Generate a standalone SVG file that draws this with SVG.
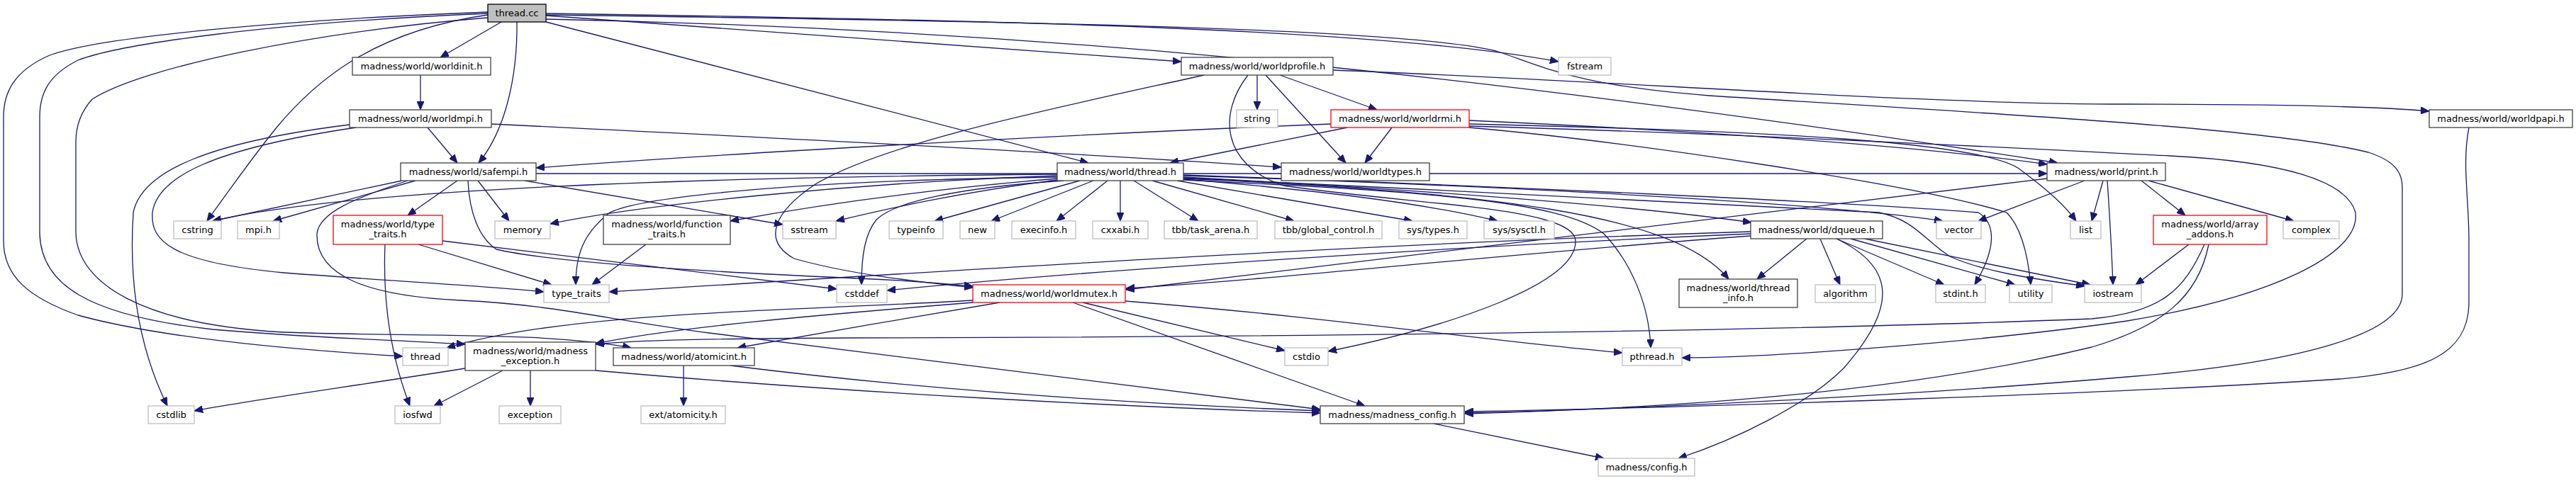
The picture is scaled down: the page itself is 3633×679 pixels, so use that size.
<svg xmlns="http://www.w3.org/2000/svg" width="3633" height="679" viewBox="0 0 3633 679">
<style>
rect{stroke-width:1.3}
.n{fill:#fff;stroke:#404040}
.g{fill:#fff;stroke:#bfbfbf}
.r{fill:#fff;stroke:#ff0000}
.c{fill:#bfbfbf;stroke:#000}
text{font-family:"DejaVu Sans","Liberation Sans",sans-serif;font-size:13px;text-anchor:middle;fill:#000}
#edges path{fill:none;stroke:#191970;stroke-width:1.3;marker-end:url(#a)}
</style>
<defs>
<marker id="a" viewBox="0 0 12 10" refX="12" refY="5" markerWidth="12" markerHeight="10" markerUnits="userSpaceOnUse" orient="auto"><path d="M0,0 L12,5 L0,10 z" fill="#191970" stroke="#191970" stroke-width="1"/></marker>
</defs>
<rect width="3633" height="679" fill="#fff"/>
<g id="edges">
<path d="M707,31 L621,81"/>
<path d="M729,31 C730,110 712,185 675,230"/>
<path d="M770,31 L1535,230"/>
<path d="M770,22 L1666,87"/>
<path d="M770,19 C1400,28 1950,40 2198,87"/>
<path d="M770,27 C1400,40 2000,90 2902,230"/>
<path d="M770,21 C1450,30 1980,40 2110,72 C2180,95 2220,120 2410,135 C2800,160 3200,180 3340,215 C3380,228 3388,245 3388,265 L3388,415 C3388,470 3250,512 3000,532 C2700,558 2300,578 2066,583"/>
<path d="M688,21 C520,45 440,120 390,180 C350,230 315,280 292,312"/>
<path d="M688,17 C400,28 140,52 70,78 C20,100 5,130 5,165 L5,340 C5,390 40,420 110,445 C220,475 380,492 568,503"/>
<path d="M688,19 C380,32 170,62 110,85 C70,105 56,130 56,165 L56,330 C58,400 120,445 300,465 C450,478 570,480 656,486"/>
<path d="M688,25 C440,45 200,95 130,140 C112,160 107,180 107,200 L107,330 C110,400 200,458 400,469 C600,476 770,468 890,491"/>
<path d="M593,106 L593,155"/>
<path d="M603,180 L645,230"/>
<path d="M693,175 C1100,195 1500,215 1807,236"/>
<path d="M493,176 C300,200 200,240 188,300 C180,420 205,510 236,573"/>
<path d="M502,180 C300,210 222,250 215,300 C212,340 240,370 400,385 C600,400 700,405 767,412"/>
<path d="M567,255 L300,312"/>
<path d="M586,255 L385,312"/>
<path d="M645,255 L575,304"/>
<path d="M674,255 L718,312"/>
<path d="M740,255 L1104,317"/>
<path d="M575,255 C500,280 450,300 447,330 C445,390 520,418 650,424 C780,430 850,450 1000,470 C1300,510 1600,545 1862,578"/>
<path d="M756,245 L2887,245"/>
<path d="M660,255 C662,300 675,335 700,352 C800,375 1100,388 1210,393 C1280,396 1330,400 1372,404"/>
<path d="M1773,106 L1773,155"/>
<path d="M1805,106 L1942,155"/>
<path d="M1785,106 L1898,230"/>
<path d="M1880,99 C2300,115 2700,147 3000,147 C3200,147 3350,150 3426,157"/>
<path d="M1760,106 C1718,160 1722,232 1810,262 C2000,290 2220,292 2222,340 C2224,400 2050,460 1873,496"/>
<path d="M1698,106 C1500,150 1250,200 1150,260 C1090,300 1075,340 1120,365 C1200,388 1300,398 1372,406"/>
<path d="M1963,180 L1925,230"/>
<path d="M1900,180 L1650,230"/>
<path d="M1877,175 C1500,190 1000,218 756,237"/>
<path d="M2072,170 C2400,185 2700,205 2887,232"/>
<path d="M2072,175 C2500,185 2800,200 2850,240 C2890,270 2912,290 2928,312"/>
<path d="M2072,178 C2500,190 2900,212 3060,220 C3220,228 3310,255 3322,300 C3330,360 3200,420 3000,453 C2800,482 2500,505 2372,505"/>
<path d="M2072,180 C2300,200 2700,260 2830,300 C2850,320 2860,360 2864,402"/>
<path d="M1523,255 L1318,312"/>
<path d="M1542,255 L1398,312"/>
<path d="M1562,255 L1490,312"/>
<path d="M1580,255 L1580,312"/>
<path d="M1599,255 L1690,312"/>
<path d="M1625,255 L1825,312"/>
<path d="M1660,255 L1992,312"/>
<path d="M1669,253 C1850,268 2000,285 2112,312"/>
<path d="M1669,250 C2000,268 2300,290 2470,314"/>
<path d="M1669,248 C2200,265 2600,290 2740,312"/>
<path d="M1669,252 C2100,272 2360,300 2438,394"/>
<path d="M1669,254 C2000,270 2200,282 2262,330 C2300,370 2326,430 2328,491"/>
<path d="M1669,251 C2000,265 2400,290 2650,300 C2700,310 2715,340 2750,362 C2800,385 2880,395 2940,404"/>
<path d="M1669,247 C2100,262 2600,285 2790,300 C2815,315 2816,350 2785,402"/>
<path d="M1491,248 C1200,258 900,290 776,316"/>
<path d="M1491,252 C1300,268 1150,290 1030,312"/>
<path d="M1491,254 C1350,272 1250,295 1179,312"/>
<path d="M1491,246 C1000,250 500,265 300,312"/>
<path d="M1491,250 C1100,255 900,280 860,300 C822,330 812,360 812,402"/>
<path d="M1500,255 C1350,265 1262,285 1236,310 C1220,330 1215,360 1215,402"/>
<path d="M2940,255 L2790,312"/>
<path d="M2966,255 L2950,312"/>
<path d="M2972,255 C2975,300 2978,350 2980,402"/>
<path d="M3020,255 L3082,304"/>
<path d="M3030,255 L3235,312"/>
<path d="M2887,252 L1588,409"/>
<path d="M2548,337 L2478,394"/>
<path d="M2567,337 L2595,402"/>
<path d="M2590,337 L2742,402"/>
<path d="M2610,337 L2842,402"/>
<path d="M2630,337 L2948,402"/>
<path d="M2590,337 C2680,380 2670,440 2600,520 C2550,570 2450,620 2367,647"/>
<path d="M2469,333 C2100,360 1800,395 1588,407"/>
<path d="M2469,330 C2000,350 1500,385 1251,410"/>
<path d="M2469,327 C1900,345 1300,385 859,412"/>
<path d="M3087,345 L3012,402"/>
<path d="M3115,345 C3100,420 3050,460 2950,490 C2700,550 2400,575 2066,584"/>
<path d="M3109,345 C3080,410 3050,440 2950,450 C2500,468 1800,476 1200,477 C1000,478 900,480 840,486"/>
<path d="M3482,180 C3472,230 3482,280 3482,340 L3482,430 C3480,500 3420,525 3300,535 C3000,555 2400,575 2066,581"/>
<path d="M2022,598 L2262,647"/>
<path d="M590,345 L778,402"/>
<path d="M543,345 C540,420 550,500 578,573"/>
<path d="M624,340 L1180,408"/>
<path d="M911,345 L835,402"/>
<path d="M1372,424 C1100,440 800,440 630,491"/>
<path d="M1372,427 C1150,445 950,462 840,485"/>
<path d="M1410,427 C1300,445 1150,472 1040,491"/>
<path d="M1527,427 L1812,495"/>
<path d="M1587,425 C1900,450 2100,482 2288,498"/>
<path d="M1513,427 L1925,573"/>
<path d="M709,523 L612,573"/>
<path d="M748,523 L748,573"/>
<path d="M656,520 C500,545 350,565 274,580"/>
<path d="M840,523 C1200,555 1600,575 1862,583"/>
<path d="M964,516 L964,573"/>
<path d="M1030,516 C1300,550 1600,570 1862,580"/>
</g>
<g id="n_cc"><rect class="c" x="688" y="6" width="82" height="25"/><text x="729" y="23">thread.cc</text></g>
<g id="n_init"><rect class="n" x="497" y="81" width="195" height="25"/><text x="594.5" y="98">madness/world/worldinit.h</text></g>
<g id="n_mpi"><rect class="n" x="493" y="155" width="200" height="25"/><text x="593" y="172">madness/world/worldmpi.h</text></g>
<g id="n_safempi"><rect class="n" x="565" y="230" width="191" height="25"/><text x="660.5" y="247">madness/world/safempi.h</text></g>
<g id="n_prof"><rect class="n" x="1666" y="81" width="214" height="25"/><text x="1773" y="98">madness/world/worldprofile.h</text></g>
<g id="n_fstream"><rect class="g" x="2198" y="81" width="74" height="25"/><text x="2235" y="98">fstream</text></g>
<g id="n_string"><rect class="g" x="1744" y="155" width="58" height="25"/><text x="1773" y="172">string</text></g>
<g id="n_rmi"><rect class="r" x="1877" y="155" width="195" height="25"/><text x="1974.5" y="172">madness/world/worldrmi.h</text></g>
<g id="n_papi"><rect class="n" x="3426" y="155" width="202" height="25"/><text x="3527" y="172">madness/world/worldpapi.h</text></g>
<g id="n_threadh"><rect class="n" x="1491" y="230" width="178" height="25"/><text x="1580" y="247">madness/world/thread.h</text></g>
<g id="n_types"><rect class="n" x="1807" y="230" width="209" height="25"/><text x="1911.5" y="247">madness/world/worldtypes.h</text></g>
<g id="n_print"><rect class="n" x="2887" y="230" width="167" height="25"/><text x="2970.5" y="247">madness/world/print.h</text></g>
<g id="n_cstring"><rect class="g" x="245" y="312" width="67" height="25"/><text x="278.5" y="329">cstring</text></g>
<g id="n_mpih"><rect class="g" x="335" y="312" width="59" height="25"/><text x="364.5" y="329">mpi.h</text></g>
<g id="n_ttred"><rect class="r" x="470" y="304" width="154" height="41"/><text x="547" y="321">madness/world/type</text><text x="547" y="335">_traits.h</text></g>
<g id="n_memory"><rect class="g" x="698" y="312" width="78" height="25"/><text x="737" y="329">memory</text></g>
<g id="n_ft"><rect class="n" x="851" y="304" width="179" height="41"/><text x="940.5" y="321">madness/world/function</text><text x="940.5" y="335">_traits.h</text></g>
<g id="n_sstream"><rect class="g" x="1104" y="312" width="75" height="25"/><text x="1141.5" y="329">sstream</text></g>
<g id="n_typeinfo"><rect class="g" x="1254" y="312" width="76" height="25"/><text x="1292" y="329">typeinfo</text></g>
<g id="n_new"><rect class="g" x="1354" y="312" width="49" height="25"/><text x="1378.5" y="329">new</text></g>
<g id="n_execinfo"><rect class="g" x="1427" y="312" width="90" height="25"/><text x="1472" y="329">execinfo.h</text></g>
<g id="n_cxxabi"><rect class="g" x="1541" y="312" width="78" height="25"/><text x="1580" y="329">cxxabi.h</text></g>
<g id="n_taskarena"><rect class="g" x="1642" y="312" width="131" height="25"/><text x="1707.5" y="329">tbb/task_arena.h</text></g>
<g id="n_globalctl"><rect class="g" x="1798" y="312" width="151" height="25"/><text x="1873.5" y="329">tbb/global_control.h</text></g>
<g id="n_systypes"><rect class="g" x="1973" y="312" width="96" height="25"/><text x="2021" y="329">sys/types.h</text></g>
<g id="n_sysctl"><rect class="g" x="2093" y="312" width="99" height="25"/><text x="2142.5" y="329">sys/sysctl.h</text></g>
<g id="n_dqueue"><rect class="n" x="2469" y="312" width="186" height="25"/><text x="2562" y="329">madness/world/dqueue.h</text></g>
<g id="n_vector"><rect class="g" x="2731" y="312" width="63" height="25"/><text x="2762.5" y="329">vector</text></g>
<g id="n_list"><rect class="g" x="2920" y="312" width="43" height="25"/><text x="2941.5" y="329">list</text></g>
<g id="n_aa"><rect class="r" x="3037" y="304" width="160" height="41"/><text x="3117" y="321">madness/world/array</text><text x="3117" y="335">_addons.h</text></g>
<g id="n_complex"><rect class="g" x="3220" y="312" width="79" height="25"/><text x="3259.5" y="329">complex</text></g>
<g id="n_tt"><rect class="g" x="767" y="402" width="92" height="25"/><text x="813" y="419">type_traits</text></g>
<g id="n_cstddef"><rect class="g" x="1180" y="402" width="71" height="25"/><text x="1215.5" y="419">cstddef</text></g>
<g id="n_mutex"><rect class="r" x="1372" y="402" width="215" height="25"/><text x="1479.5" y="419">madness/world/worldmutex.h</text></g>
<g id="n_tinfo"><rect class="n" x="2368" y="394" width="167" height="40"/><text x="2451.5" y="411">madness/world/thread</text><text x="2451.5" y="425">_info.h</text></g>
<g id="n_algorithm"><rect class="g" x="2560" y="402" width="85" height="25"/><text x="2602.5" y="419">algorithm</text></g>
<g id="n_stdint"><rect class="g" x="2730" y="402" width="70" height="25"/><text x="2765" y="419">stdint.h</text></g>
<g id="n_utility"><rect class="g" x="2834" y="402" width="60" height="25"/><text x="2864" y="419">utility</text></g>
<g id="n_iostream"><rect class="g" x="2940" y="402" width="80" height="25"/><text x="2980" y="419">iostream</text></g>
<g id="n_thread"><rect class="g" x="568" y="491" width="64" height="25"/><text x="600" y="508">thread</text></g>
<g id="n_mex"><rect class="n" x="656" y="483" width="184" height="40"/><text x="748" y="500">madness/world/madness</text><text x="748" y="514">_exception.h</text></g>
<g id="n_atomic"><rect class="n" x="865" y="491" width="199" height="25"/><text x="964.5" y="508">madness/world/atomicint.h</text></g>
<g id="n_cstdio"><rect class="g" x="1812" y="491" width="61" height="25"/><text x="1842.5" y="508">cstdio</text></g>
<g id="n_pthread"><rect class="g" x="2288" y="491" width="84" height="25"/><text x="2330" y="508">pthread.h</text></g>
<g id="n_cstdlib"><rect class="g" x="209" y="573" width="65" height="25"/><text x="241.5" y="590">cstdlib</text></g>
<g id="n_iosfwd"><rect class="g" x="557" y="573" width="64" height="25"/><text x="589" y="590">iosfwd</text></g>
<g id="n_exception"><rect class="g" x="704" y="573" width="87" height="25"/><text x="747.5" y="590">exception</text></g>
<g id="n_atomicity"><rect class="g" x="904" y="573" width="119" height="25"/><text x="963.5" y="590">ext/atomicity.h</text></g>
<g id="n_mconf"><rect class="n" x="1862" y="573" width="203" height="25"/><text x="1963.5" y="590">madness/madness_config.h</text></g>
<g id="n_config"><rect class="g" x="2254" y="647" width="136" height="25"/><text x="2322" y="664">madness/config.h</text></g>
</svg>
